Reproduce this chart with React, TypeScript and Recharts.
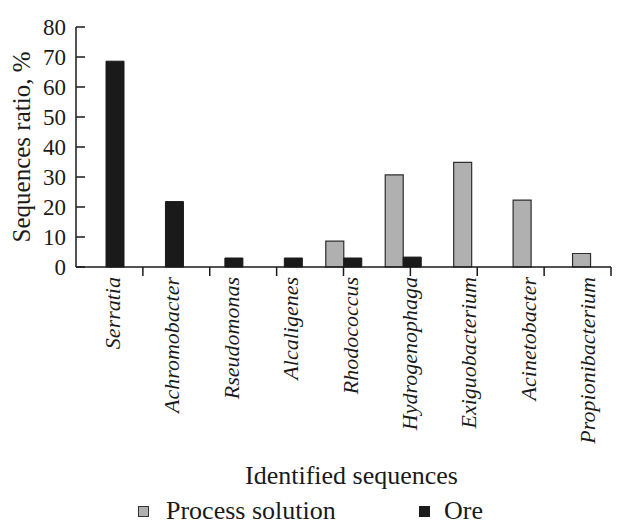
import { BarChart, Bar, XAxis, YAxis, Legend } from 'recharts';

const genera = [
  'Serratia',
  'Achromobacter',
  'Rseudomonas',
  'Alcaligenes',
  'Rhodococcus',
  'Hydrogenophaga',
  'Exiguobacterium',
  'Acinetobacter',
  'Propionibacterium',
];
const processSolution = [null, null, null, null, 8.6, 30.7, 34.9, 22.3, 4.5];
const ore = [68.6, 21.8, 3, 3, 3, 3.3, null, null, null];
const yTicks = [0, 10, 20, 30, 40, 50, 60, 70, 80];
const boundaryTicks = [1, 2, 3, 4, 5, 6, 7, 8];
const legendOrder = ['Process solution', 'Ore'];

// genera that have only the process-solution value get a centred bar of their own
const data = genera.map((name, i) => ({
  name,
  process: ore[i] != null ? processSolution[i] : null,
  ore: ore[i],
  solo: ore[i] == null ? processSolution[i] : null,
}));

const FONT = "'Liberation Serif', Tinos, 'DejaVu Serif', 'Noto Serif', serif";
const INK = '#1a1a1a';
const GREY = '#b0b0b0';
const Y_MARGIN = 10;

const NoLabel = () => <g />;

// value label plus a short inward tick mark
const ValueTick = (props: any) => {
  const { x, y, payload } = props;
  return (
    <g>
      <text x={x} y={y} dy="0.355em" textAnchor="end" fill={INK} style={{ fontFamily: FONT, fontSize: 23 }}>
        {payload.value}
      </text>
      <line x1={x + Y_MARGIN} x2={x + Y_MARGIN + 9} y1={y} y2={y} stroke={INK} strokeWidth={1.5} />
    </g>
  );
};

const GenusTick = (props: any) => {
  const { x, y, payload } = props;
  return (
    <text
      x={x}
      y={y}
      dy={14}
      transform={`rotate(-90, ${x}, ${y})`}
      textAnchor="end"
      fill={INK}
      style={{ fontFamily: FONT, fontStyle: 'italic', fontSize: 22 }}
    >
      {payload.value}
    </text>
  );
};

const LegendBox = (props: any) => {
  const items = (props.payload || [])
    .filter((p: any) => p.type !== 'none')
    .sort((a: any, b: any) => legendOrder.indexOf(a.value) - legendOrder.indexOf(b.value));
  const lefts = [138, 419];
  return (
    <div style={{ position: 'relative', height: 30, fontFamily: FONT, fontSize: 26, color: INK }}>
      {items.map((it: any, i: number) => (
        <div
          key={it.value}
          style={{ position: 'absolute', left: lefts[i], top: 2, height: 28, display: 'flex', alignItems: 'center' }}
        >
          <span
            style={{
              width: 11,
              height: 11,
              background: it.color,
              border: `1px solid ${i === 0 ? '#333' : INK}`,
              boxSizing: 'border-box',
              marginRight: i === 0 ? 17 : 14,
            }}
          />
          <span style={{ lineHeight: '28px' }}>{it.value}</span>
        </div>
      ))}
    </div>
  );
};

export default function App() {
  return (
    <div style={{ position: 'absolute', left: 0, top: 0, background: '#fff' }}>
      <BarChart
        width={621}
        height={525}
        data={data}
        margin={{ top: 27, right: 10, bottom: 0, left: 0 }}
        barGap={0}
      >
        <XAxis
          xAxisId="bounds"
          type="number"
          domain={[0, 9]}
          ticks={boundaryTicks}
          interval={0}
          tick={NoLabel}
          mirror
          tickSize={-9}
          tickLine={{ stroke: INK, strokeWidth: 1.5 }}
          axisLine={false}
          height={1}
        />
        <XAxis
          dataKey="name"
          interval={0}
          height={228}
          tickLine={false}
          tickSize={0}
          tickMargin={10}
          tick={<GenusTick />}
          axisLine={{ stroke: INK, strokeWidth: 1.5 }}
          label={{
            value: 'Identified sequences',
            position: 'insideBottom',
            offset: 11,
            dx: 8,
            fill: INK,
            style: { fontFamily: FONT, fontSize: 26 },
          }}
        />
        <XAxis xAxisId="solo" dataKey="name" hide />
        <YAxis
          domain={[0, 80]}
          ticks={yTicks}
          interval={0}
          width={76}
          tickLine={false}
          tickSize={0}
          tickMargin={Y_MARGIN}
          axisLine={{ stroke: INK, strokeWidth: 1.5 }}
          tick={<ValueTick />}
          label={{
            value: 'Sequences ratio, %',
            angle: -90,
            position: 'insideLeft',
            offset: 21,
            fill: INK,
            style: { textAnchor: 'middle', fontFamily: FONT, fontSize: 25 },
          }}
        />
        <Legend verticalAlign="bottom" content={<LegendBox />} />
        <Bar
          dataKey="process"
          name="Process solution"
          fill={GREY}
          stroke="#2e2e2e"
          strokeWidth={1.2}
          barSize={18}
          isAnimationActive={false}
        />
        <Bar dataKey="ore" name="Ore" fill={INK} stroke={INK} barSize={18} isAnimationActive={false} />
        <Bar
          dataKey="solo"
          xAxisId="solo"
          name="Process solution"
          legendType="none"
          fill={GREY}
          stroke="#2e2e2e"
          strokeWidth={1.2}
          barSize={18}
          isAnimationActive={false}
        />
      </BarChart>
    </div>
  );
}
